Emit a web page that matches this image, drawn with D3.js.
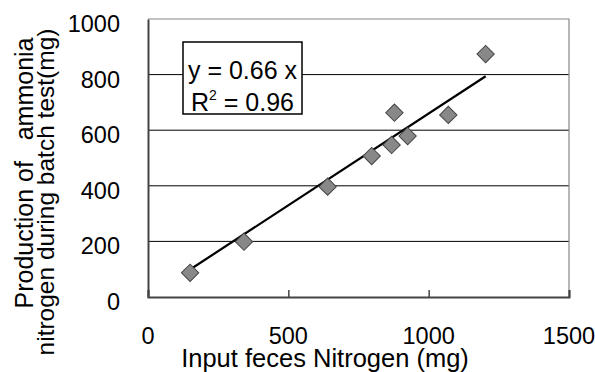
<!DOCTYPE html>
<html>
<head>
<meta charset="utf-8">
<script src="https://cdn.jsdelivr.net/npm/d3@7"></script>
<style>
  body { margin: 0; background: #fff; }
  svg { display: block; font-family: "Liberation Sans", Arial, sans-serif; }
  text { white-space: pre; }
</style>
</head>
<body>
<div id="content"></div>
<script>
// input feces nitrogen (mg) vs ammonia nitrogen produced (mg)
const inputN = [150, 342, 640, 797, 868, 878, 925, 1070, 1203];
const ammoniaN = [87, 199, 397, 507, 547, 663, 579, 655, 874];
const slope = 0.66;
const xTicks = [0, 500, 1000, 1500];
const yTicks = [0, 200, 400, 600, 800, 1000];
const eqLines = ["y = 0.66 x", "R", " = 0.96"];

const svgWidth = 595, svgHeight = 372;
const margin = { top: 19, right: 26, bottom: 75, left: 148 };
const width = svgWidth - margin.left - margin.right;
const height = svgHeight - margin.top - margin.bottom;

const svg = d3.select("#content")
    .append("svg")
    .attr("width", svgWidth)
    .attr("height", svgHeight);
const g = svg.append("g")
    .attr("transform", `translate(${margin.left}, ${margin.top})`);

const x = d3.scaleLinear().domain([0, 1500]).range([0, width]);
const y = d3.scaleLinear().domain([0, 1000]).range([height, 0]);

// horizontal gridlines
g.append("g")
    .selectAll("line")
    .data(yTicks.filter(t => t > 0 && t < 1000))
    .join("line")
    .attr("x1", 0).attr("x2", width)
    .attr("y1", d => y(d)).attr("y2", d => y(d))
    .attr("stroke", "#000")
    .attr("stroke-width", 1);

// top and right frame
g.append("path")
    .attr("d", `M0,${y(1000)}H${x(1500)}V${y(0)}`)
    .attr("fill", "none")
    .attr("stroke", "#888")
    .attr("stroke-width", 1.2);

// x axis, ticks pointing up
const xAxis = g.append("g")
    .attr("transform", `translate(0, ${height})`)
    .call(d3.axisBottom(x).tickValues(xTicks).tickSize(-7).tickFormat(""));
xAxis.select(".domain").attr("stroke", "#444").attr("stroke-width", 2);
xAxis.selectAll(".tick line").attr("stroke", "#444").attr("stroke-width", 1.5);

g.append("g")
    .selectAll("text")
    .data(xTicks)
    .join("text")
    .attr("x", d => x(d))
    .attr("y", height + 47)
    .attr("text-anchor", "middle")
    .style("font-size", "23.5px")
    .text(d => d);

// y axis
const yAxis = g.append("g")
    .call(d3.axisLeft(y).tickValues(yTicks).tickSize(0).tickFormat(""));
yAxis.select(".domain").attr("stroke", "#444").attr("stroke-width", 2);

g.append("g")
    .selectAll("text")
    .data(yTicks)
    .join("text")
    .attr("x", -28)
    .attr("y", d => y(d) + 13)
    .attr("text-anchor", "end")
    .style("font-size", "23.5px")
    .text(d => d);

// trend line through origin, drawn over the data range
const line = d3.line()
    .x(d => x(d))
    .y(d => y(slope * d));
g.append("path")
    .attr("d", line(d3.extent(inputN)))
    .attr("fill", "none")
    .attr("stroke", "#000")
    .attr("stroke-width", 2.2);

// diamonds
const diamond = d3.symbol().type(d3.symbolSquare).size(150);
g.append("g")
    .selectAll("path")
    .data(inputN.map((v, i) => [v, ammoniaN[i]]))
    .join("path")
    .attr("d", diamond)
    .attr("transform", d => `translate(${x(d[0])}, ${y(d[1])}) rotate(45)`)
    .attr("fill", "#888")
    .attr("stroke", "#444")
    .attr("stroke-width", 1);

// equation box
const box = svg.append("g");
box.append("rect")
    .attr("x", 183).attr("y", 42)
    .attr("width", 119).attr("height", 72)
    .attr("fill", "#fff")
    .attr("stroke", "#000")
    .attr("stroke-width", 1.5);
box.append("text")
    .attr("x", 242.5).attr("y", 79)
    .attr("text-anchor", "middle")
    .style("font-size", "25px")
    .text(eqLines[0]);
const r2 = box.append("text")
    .attr("x", 242.5).attr("y", 111)
    .attr("text-anchor", "middle")
    .style("font-size", "25px");
r2.append("tspan").text(eqLines[1]);
r2.append("tspan").attr("dy", -11).style("font-size", "14px").text("2");
r2.append("tspan").attr("dy", 11).text(eqLines[2]);

// axis titles
svg.append("text")
    .attr("x", 325).attr("y", 367)
    .attr("text-anchor", "middle")
    .style("font-size", "25.5px")
    .text("Input feces Nitrogen (mg)");

svg.append("text")
    .attr("transform", "translate(33, 173) rotate(-90)")
    .attr("text-anchor", "middle")
    .style("font-size", "25px")
    .text("Production of   ammonia");
svg.append("text")
    .attr("transform", "translate(54, 192) rotate(-90)")
    .attr("text-anchor", "middle")
    .style("font-size", "24.5px")
    .text("nitrogen during batch test(mg)");
</script>
</body>
</html>
